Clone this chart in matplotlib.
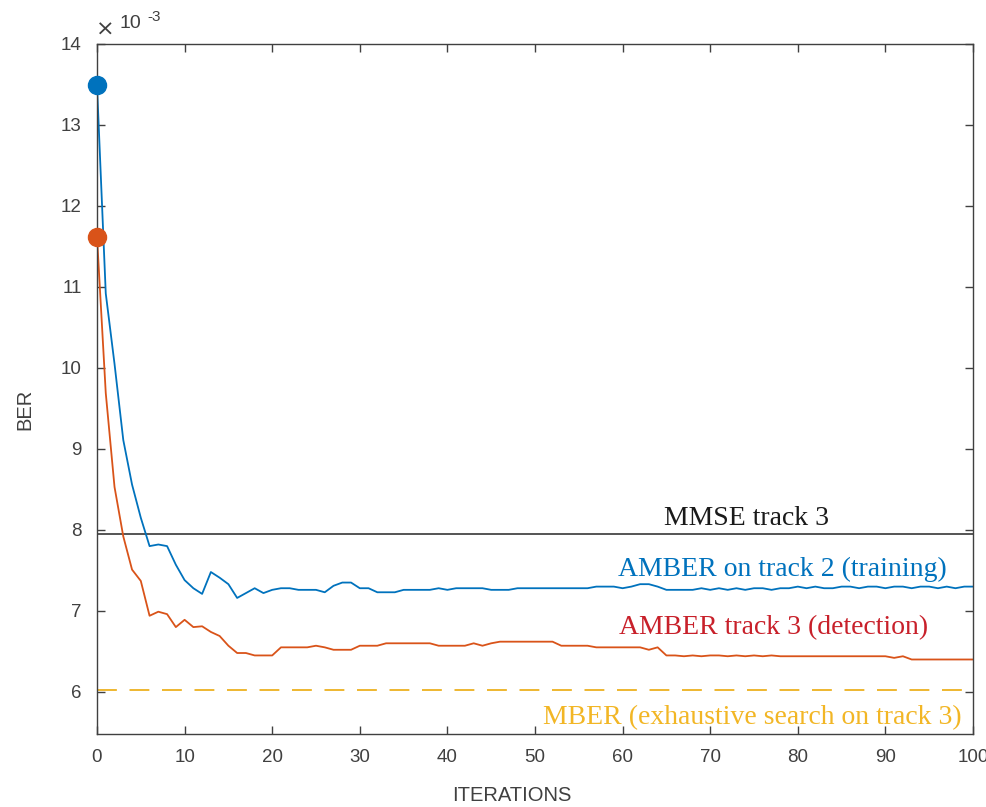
import numpy as np
import matplotlib.pyplot as plt

# BER values in units of 1e-3, one per iteration 0..100
iterations = np.arange(0, 101)
amber_track2 = [13.49, 10.92, 10.05, 9.11, 8.56, 8.15, 7.80, 7.82, 7.80, 7.57,
                7.38, 7.28, 7.21, 7.48, 7.41, 7.33, 7.16, 7.22, 7.28, 7.22,
                7.26, 7.28, 7.28, 7.26, 7.26, 7.26, 7.23, 7.31, 7.35, 7.35,
                7.28, 7.28, 7.23, 7.23, 7.23, 7.26, 7.26, 7.26, 7.26, 7.28,
                7.26, 7.28, 7.28, 7.28, 7.28, 7.26, 7.26, 7.26, 7.28, 7.28,
                7.28, 7.28, 7.28, 7.28, 7.28, 7.28, 7.28, 7.30, 7.30, 7.30,
                7.28, 7.30, 7.33, 7.33, 7.30, 7.26, 7.26, 7.26, 7.26, 7.28,
                7.26, 7.28, 7.26, 7.28, 7.26, 7.28, 7.28, 7.26, 7.28, 7.28,
                7.30, 7.28, 7.30, 7.28, 7.28, 7.30, 7.30, 7.28, 7.30, 7.30,
                7.28, 7.30, 7.30, 7.28, 7.30, 7.30, 7.28, 7.30, 7.28, 7.30,
                7.30]
amber_track3 = [11.62, 9.69, 8.53, 7.92, 7.51, 7.37, 6.94, 6.99, 6.96, 6.80,
                6.89, 6.80, 6.81, 6.74, 6.69, 6.57, 6.48, 6.48, 6.45, 6.45,
                6.45, 6.55, 6.55, 6.55, 6.55, 6.57, 6.55, 6.52, 6.52, 6.52,
                6.57, 6.57, 6.57, 6.60, 6.60, 6.60, 6.60, 6.60, 6.60, 6.57,
                6.57, 6.57, 6.57, 6.60, 6.57, 6.60, 6.62, 6.62, 6.62, 6.62,
                6.62, 6.62, 6.62, 6.57, 6.57, 6.57, 6.57, 6.55, 6.55, 6.55,
                6.55, 6.55, 6.55, 6.52, 6.55, 6.45, 6.45, 6.44, 6.45, 6.44,
                6.45, 6.45, 6.44, 6.45, 6.44, 6.45, 6.44, 6.45, 6.44, 6.44,
                6.44, 6.44, 6.44, 6.44, 6.44, 6.44, 6.44, 6.44, 6.44, 6.44,
                6.44, 6.42, 6.44, 6.40, 6.40, 6.40, 6.40, 6.40, 6.40, 6.40,
                6.40]
mmse_track3 = 7.95
mber_track3 = 6.02

blue = '#0072BD'
orange = '#D95319'
yellow = '#EDB120'
axcol = '#404040'

fig = plt.figure(figsize=(9.87, 8.07), dpi=100)
ax = fig.add_axes([97/987, 73/807, 876/987, 690/807])

ax.axhline(mmse_track3, color='#262626', lw=1.1)
ax.axhline(mber_track3, color=yellow, lw=1.3, dashes=(11, 7))
ax.plot(iterations, amber_track2, color=blue, lw=1.3)
ax.plot(iterations, amber_track3, color=orange, lw=1.3)
ax.plot(iterations[0], amber_track2[0], 'o', color=blue, ms=13, clip_on=False, zorder=5)
ax.plot(iterations[0], amber_track3[0], 'o', color=orange, ms=13, clip_on=False, zorder=5)

ax.set_xlim(0, 100)
ax.set_ylim(5.48, 14)
ax.set_xticks(np.arange(0, 101, 10))
ax.set_yticks(np.arange(6, 15, 1))
ax.tick_params(direction='in', top=True, right=True, length=6, width=1,
               colors=axcol, labelsize=13.5, pad=11)
for s in ax.spines.values():
    s.set_color(axcol)
    s.set_linewidth(1)
for lab in ax.get_xticklabels() + ax.get_yticklabels():
    lab.set_fontfamily('Liberation Sans')

ax.set_xlabel('ITERATIONS', fontsize=14.5, color=axcol, family='Liberation Sans')
ax.set_ylabel('BER', fontsize=14.5, color=axcol, family='Liberation Sans')
ax.xaxis.set_label_coords(0.474, -0.076)
ax.yaxis.set_label_coords(-0.071, 0.47)

serif = 'Liberation Serif'
ax.text(74.1, 8.14, 'MMSE track 3', color='#1a1a1a', fontsize=20, family=serif,
        ha='center', va='center')
ax.text(78.2, 7.51, 'AMBER on track 2 (training)', color=blue, fontsize=20,
        family=serif, ha='center', va='center')
ax.text(77.2, 6.79, 'AMBER track 3 (detection)', color='#C8202A', fontsize=20,
        family=serif, ha='center', va='center')
ax.text(74.8, 5.68, 'MBER (exhaustive search on track 3)', color='#F2B625',
        fontsize=20, family=serif, ha='center', va='center')

# exponent marker
fig.text(105/987, 1 - 30/807, '×', fontsize=16, color=axcol, ha='center', va='center',
         family='DejaVu Sans')
fig.text(130/987, 1 - 24/807, '10', fontsize=14, color=axcol, ha='center', va='center',
         family='Liberation Sans')
fig.text(154/987, 1 - 17/807, '-3', fontsize=11, color=axcol, ha='center', va='center',
         family='Liberation Sans')

fig.savefig('out.png', dpi=100)
